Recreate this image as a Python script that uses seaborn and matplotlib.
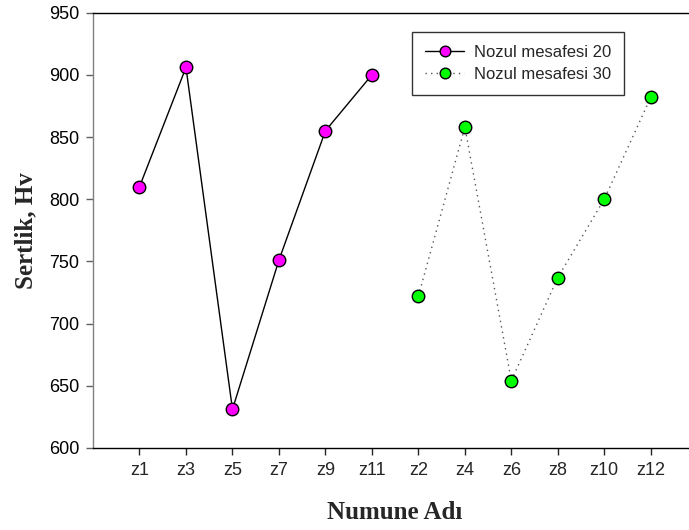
import matplotlib
matplotlib.use("Agg")
import matplotlib.pyplot as plt
import seaborn as sns
import pandas as pd

# sample names and hardness values (Hv) for each nozzle distance
samples_20 = ["z1", "z3", "z5", "z7", "z9", "z11"]
hardness_20 = [810, 906, 631, 751, 855, 900]
samples_30 = ["z2", "z4", "z6", "z8", "z10", "z12"]
hardness_30 = [722, 858, 654, 737, 800, 882]

df20 = pd.DataFrame({"Numune": samples_20, "Sertlik": hardness_20})
df30 = pd.DataFrame({"Numune": samples_30, "Sertlik": hardness_30})

sns.set_style("ticks")
plt.rcParams['font.family'] = ['Liberation Sans', 'DejaVu Sans']

fig = plt.figure(figsize=(6.89, 5.30), dpi=100)
ax = fig.add_axes([0.135, 0.155, 0.877, 0.821])

sns.lineplot(data=df20, x="Numune", y="Sertlik", ax=ax, sort=False,
             color="black", linewidth=1.0, marker="o", markersize=9,
             markerfacecolor="#FF00FF", markeredgecolor="black",
             markeredgewidth=1.0, label="Nozul mesafesi 20")
sns.lineplot(data=df30, x="Numune", y="Sertlik", ax=ax, sort=False,
             color="#555555", linewidth=1.0, linestyle=(0, (1, 3)),
             marker="o", markersize=9,
             markerfacecolor="#00FF00", markeredgecolor="black",
             markeredgewidth=1.0, label="Nozul mesafesi 30")

ax.set_xlim(-1, 12)
ax.set_ylim(600, 950)
ax.set_yticks(range(600, 951, 50))

ax.set_xlabel("Numune Adı", family="Liberation Serif", fontweight="bold",
              fontsize=18, labelpad=16)
ax.set_ylabel("Sertlik, Hv", family="Liberation Serif", fontweight="bold",
              fontsize=18, labelpad=8)

ax.tick_params(axis="both", labelsize=13, direction="out", length=5, width=1)
ax.tick_params(axis="x", pad=5)
ax.tick_params(axis="y", pad=5, colors="#606060", labelcolor="black")

ax.spines["left"].set_color("#808080")
ax.spines["top"].set_color("black")
ax.spines["bottom"].set_color("black")
ax.spines["right"].set_visible(False)
for s in ax.spines.values():
    s.set_linewidth(1.0)

leg = ax.legend(loc="upper left", bbox_to_anchor=(0.528, 0.956),
                borderaxespad=0, fontsize=12, frameon=True, fancybox=False,
                edgecolor="black", borderpad=0.8, handlelength=2.3,
                handletextpad=0.6, labelspacing=0.4, markerscale=0.85)
leg.get_frame().set_linewidth(1.0)

fig.savefig("out.png", dpi=100)
